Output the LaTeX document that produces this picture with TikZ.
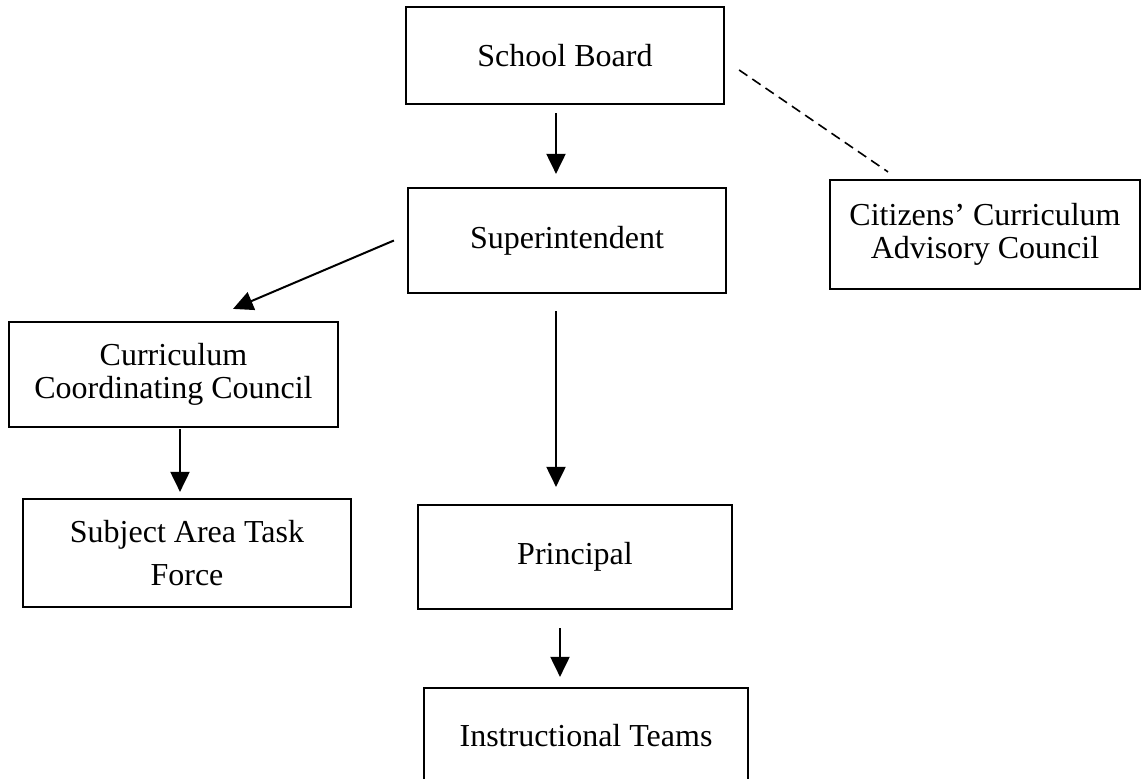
\documentclass[tikz,border=0pt]{standalone}
\usepackage{fontspec}
\setmainfont{Liberation Serif}
\usepackage{tikz}
\usetikzlibrary{arrows.meta}

\begin{document}
\begin{tikzpicture}[x=1pt, y=-1pt,
    box/.style={draw, line width=2.2pt, inner sep=0pt, align=center,
        font=\fontsize{32}{33}\selectfont},
    arr/.style={line width=2pt, -{Triangle[width=19pt,length=20pt]}}]
    \useasboundingbox[fill=white] (0,0) rectangle (1141,779);
    \node[box, minimum width=318pt, minimum height=97pt] (sb) at (565,55.5) {School Board};
    \node[box, minimum width=318pt, minimum height=105pt] (sup) at (567,240.5) {Superintendent};
    \node[box, minimum width=310pt, minimum height=109pt] (cit) at (985,234.5) {Citizens’ Curriculum\\Advisory Council};
    \node[box, minimum width=329pt, minimum height=105pt] (ccc) at (173.5,374.5) {Curriculum\\Coordinating Council};
    \node[box, minimum width=328pt, minimum height=108pt] (satf) at (187,553) {Subject Area Task\\[10pt]Force};
    \node[box, minimum width=314pt, minimum height=104pt] (prin) at (575,557) {Principal};
    \node[box, minimum width=324pt, minimum height=96pt] (it) at (586,736) {Instructional Teams};
    \draw[arr] ([xshift=-9pt,yshift=-8pt]sb.south) -- ([xshift=-11pt,yshift=13pt]sup.north);
    \draw[arr] ([xshift=-13pt]sup.west) -- ([xshift=59.5pt,yshift=12pt]ccc.north);
    \draw[arr] ([xshift=-11pt,yshift=-17pt]sup.south) -- ([xshift=-19pt,yshift=17pt]prin.north);
    \draw[arr] ([xshift=6.5pt,yshift=-1pt]ccc.south) -- ([xshift=-7pt,yshift=6pt]satf.north);
    \draw[arr] ([xshift=-15pt,yshift=-18pt]prin.south) -- ([xshift=-26pt,yshift=10pt]it.north);
    \draw[line width=1.6pt, dash pattern=on 10pt off 6pt] ([xshift=14pt,yshift=-14.5pt]sb.east) -- ([xshift=-97pt,yshift=7pt]cit.north);
\end{tikzpicture}
\end{document}
